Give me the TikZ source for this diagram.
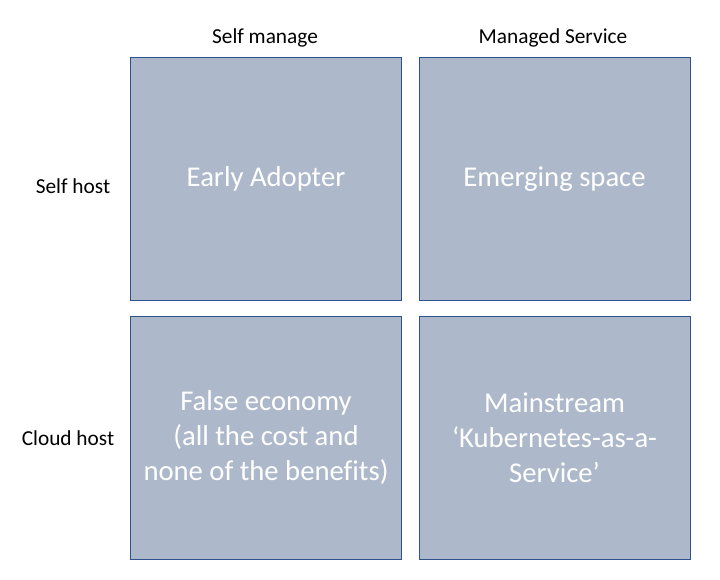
\documentclass[tikz,border=0pt]{standalone}
\usepackage{fontspec}
\setmainfont{Carlito}[Ligatures=NoCommon]
\usepackage{tikz}
\usetikzlibrary{positioning}
\definecolor{quadfill}{HTML}{ADB9CA}
\definecolor{quadline}{HTML}{2F528F}
\tikzset{
	quad/.style={draw=quadline, fill=quadfill, line width=0.75pt,
		minimum width=203.25pt, minimum height=182.25pt,
		text=white, align=center, font=\fontsize{21.5}{26.3}\selectfont},
	axis/.style={font=\fontsize{16}{19}\selectfont, text=black},
}

\begin{document}
\begin{tikzpicture}[x=0.75pt, y=-0.75pt]
\useasboundingbox (0,0) rectangle (720,579);
\node[quad] (early) at (266,179) {Early Adopter};
\node[quad] (emerging) at (554.5,179) {Emerging space};
\node[quad] (false) at (266,437.5) {False economy\\(all the cost and\\none of the benefits)};
\node[quad] (main) at (554.5,437.5) {Mainstream\\‘Kubernetes-as-a-\\Service’};
\node[axis] (selfmanage) at (265,37.5) {Self manage};
\node[axis] (managed) at (553,37.5) {Managed Service};
\node[axis] (selfhost) at (73,186.5) {Self host};
\node[axis] (cloudhost) at (68,438.5) {Cloud host};
\end{tikzpicture}
\end{document}
